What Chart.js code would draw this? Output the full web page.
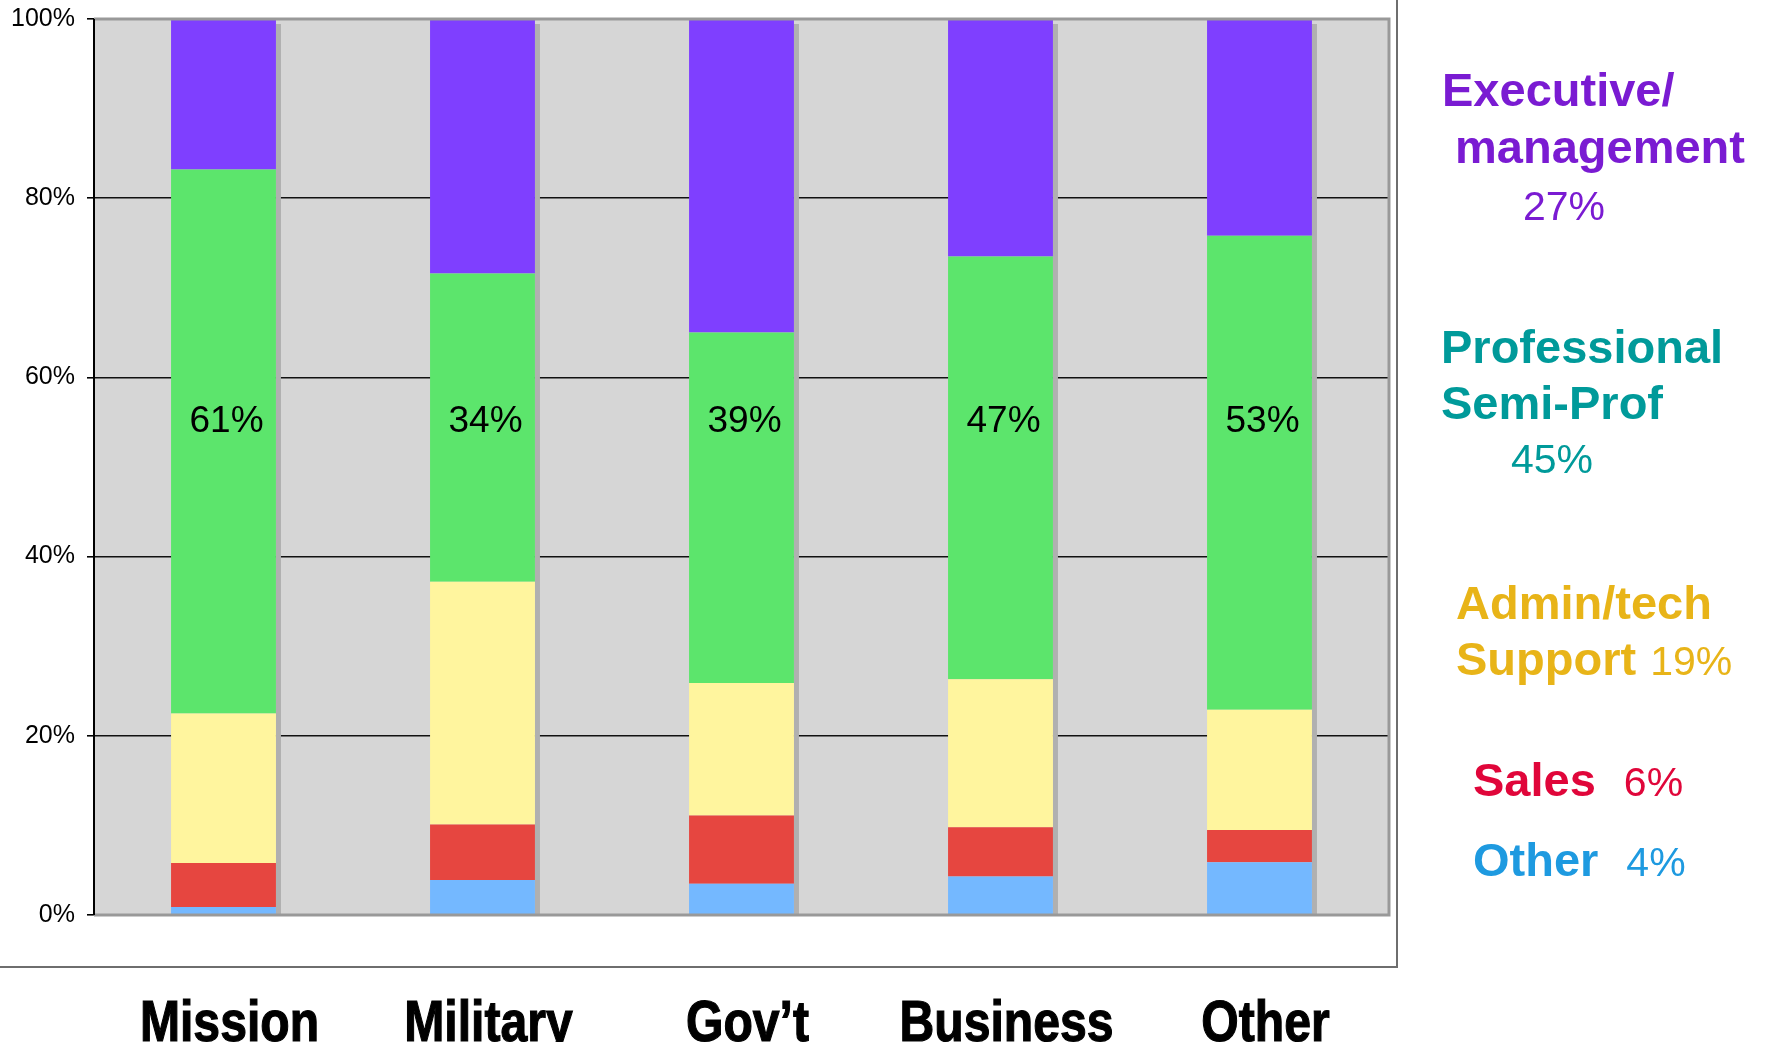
<!DOCTYPE html>
<html>
<head>
<meta charset="utf-8">
<title>Occupation by sector</title>
<script src="https://cdn.jsdelivr.net/npm/chart.js@4.4.1/dist/chart.umd.min.js"></script>
<style>
  html, body { margin: 0; padding: 0; background: #fff; }
  #wrap { width: 1771px; height: 1042px; position: relative; }
</style>
</head>
<body>
<div id="wrap"><canvas id="myChart" width="1771" height="1042"></canvas></div>
<script>
"use strict";

// sectors along the x axis
const sectors = ['Mission', 'Military', 'Gov\u2019t', 'Business', 'Other'];

// share of each occupation group per sector (percent)
const otherJobs = [0.9, 3.9, 3.5, 4.3, 5.9];
const sales = [4.9, 6.2, 7.6, 5.5, 3.6];
const adminTech = [16.7, 27.1, 14.8, 16.5, 13.4];
const professional = [60.7, 34.4, 39.1, 47.2, 52.9];
const executive = [16.8, 28.4, 35.0, 26.5, 24.2];

// y axis ticks
const yTicks = [0, 20, 40, 60, 80, 100];

// overall shares shown at the right
const legendItems = [
  { lines: ['Executive/', ' management'], pct: '27%', color: '#7a1bd2' },
  { lines: ['Professional', 'Semi-Prof'], pct: '45%', color: '#009a9a' },
  { lines: ['Admin/tech', 'Support'], pct: '19%', color: '#e8b418' },
  { lines: ['Sales'], pct: '6%', color: '#e0063a' },
  { lines: ['Other'], pct: '4%', color: '#1e9ae0' }
];

const FONT = '"Liberation Sans", Arial, sans-serif';

// grey plot background
const plotBg = {
  id: 'plotBg',
  beforeDraw(chart) {
    const { ctx, chartArea: a } = chart;
    ctx.save();
    ctx.fillStyle = '#d6d6d6';
    ctx.fillRect(a.left, a.top, a.right - a.left, a.bottom - a.top);
    ctx.restore();
  }
};

// little 3d shadow on the right of every column
const barShadow = {
  id: 'barShadow',
  beforeDatasetsDraw(chart) {
    const { ctx, chartArea: a } = chart;
    const top = chart.getDatasetMeta(chart.data.datasets.length - 1).data;
    ctx.save();
    ctx.fillStyle = '#b0b0b0';
    top.forEach(bar => {
      const right = bar.x + bar.width / 2;
      ctx.fillRect(right, bar.y + 5, 5, a.bottom - bar.y - 5);
    });
    ctx.restore();
  }
};

// percent of the professional group written on each column
const proLabels = {
  id: 'proLabels',
  afterDatasetsDraw(chart) {
    const { ctx } = chart;
    const meta = chart.getDatasetMeta(3);
    const y = chart.scales.y.getPixelForValue(55.1);
    ctx.save();
    ctx.fillStyle = '#000';
    ctx.font = '37px ' + FONT;
    ctx.textAlign = 'center';
    ctx.textBaseline = 'middle';
    meta.data.forEach((bar, i) => {
      ctx.fillText(Math.round(professional[i]) + '%', bar.x + 3, y);
    });
    ctx.restore();
  }
};

// sector names in a narrow bold face, under the frame
const sectorLabels = {
  id: 'sectorLabels',
  afterDraw(chart) {
    const { ctx, chartArea: a } = chart;
    const xs = chart.scales.x;
    ctx.save();
    ctx.fillStyle = '#000';
    ctx.strokeStyle = '#000';
    ctx.lineWidth = 1.2;
    ctx.font = 'bold 58px ' + FONT;
    ctx.textAlign = 'center';
    ctx.textBaseline = 'alphabetic';
    sectors.forEach((s, i) => {
      ctx.save();
      ctx.translate(xs.getPixelForValue(i) + 6, a.bottom + 126);
      ctx.scale(0.83, 1);
      ctx.fillText(s, 0, 0);
      ctx.strokeText(s, 0, 0);
      ctx.restore();
    });
    ctx.restore();
  }
};

// plot frame, outer frame and the text legend on the right
const frameAndLegend = {
  id: 'frameAndLegend',
  afterDraw(chart) {
    const { ctx, chartArea: a } = chart;
    ctx.save();
    // grey border of the plot (top, right, bottom)
    ctx.strokeStyle = '#999';
    ctx.lineWidth = 3;
    ctx.beginPath();
    ctx.moveTo(a.left, a.top);
    ctx.lineTo(a.right, a.top);
    ctx.lineTo(a.right, a.bottom);
    ctx.lineTo(a.left, a.bottom);
    ctx.stroke();
    // left axis line again on top
    ctx.strokeStyle = '#000';
    ctx.lineWidth = 2;
    ctx.beginPath();
    ctx.moveTo(a.left, a.top);
    ctx.lineTo(a.left, a.bottom);
    ctx.stroke();
    // outer chart frame
    ctx.strokeStyle = '#6e6e6e';
    ctx.lineWidth = 2;
    ctx.beginPath();
    ctx.moveTo(a.right + 8, 0);
    ctx.lineTo(a.right + 8, a.bottom + 52);
    ctx.lineTo(0, a.bottom + 52);
    ctx.stroke();

    // legend text
    const rows = [
      { x: 1442, y: 106, lh: 57, px: 1523, py: 220 },
      { x: 1441, y: 363, lh: 56, px: 1511, py: 473 },
      { x: 1456, y: 619, lh: 56, px: null },
      { x: 1473, y: 796, lh: 0, px: null },
      { x: 1473, y: 876, lh: 0, px: null }
    ];
    ctx.textBaseline = 'alphabetic';
    ctx.textAlign = 'left';
    legendItems.forEach((item, i) => {
      const r = rows[i];
      ctx.fillStyle = item.color;
      let lastX = r.x, lastY = r.y;
      item.lines.forEach((t, k) => {
        const yy = r.y + k * r.lh;
        ctx.font = 'bold 47px ' + FONT;
        ctx.fillText(t, r.x, yy);
        lastX = r.x + ctx.measureText(t).width;
        lastY = yy;
      });
      ctx.font = '41px ' + FONT;
      if (r.px !== null) {
        ctx.fillText(item.pct, r.px, r.py);
      } else {
        const gap = item.lines.length > 1 ? 14 : 28;
        ctx.fillText(item.pct, lastX + gap, lastY);
      }
    });
    ctx.restore();
  }
};

const ctx = document.getElementById('myChart').getContext('2d');
const chart = new Chart(ctx, {
  type: 'bar',
  data: {
    labels: sectors,
    datasets: [
      { label: 'Other', data: otherJobs, backgroundColor: '#74b8ff' },
      { label: 'Sales', data: sales, backgroundColor: '#e64640' },
      { label: 'Admin/tech Support', data: adminTech, backgroundColor: '#fff59e' },
      { label: 'Professional Semi-Prof', data: professional, backgroundColor: '#5ce56c' },
      { label: 'Executive/management', data: executive, backgroundColor: '#7f3fff' }
    ]
  },
  options: {
    responsive: false,
    animation: false,
    devicePixelRatio: 1,
    layout: { padding: { left: 0, top: 19, right: 382, bottom: 0 } },
    datasets: {
      bar: { categoryPercentage: 1, barPercentage: 0.405, borderWidth: 0 }
    },
    plugins: {
      legend: { display: false },
      tooltip: { enabled: false }
    },
    scales: {
      x: {
        stacked: true,
        grid: { display: false },
        border: { display: false },
        ticks: { display: false },
        afterFit(scale) { scale.height = 127; }
      },
      y: {
        stacked: true,
        min: 0,
        max: 100,
        afterBuildTicks(scale) { scale.ticks = yTicks.map(v => ({ value: v })); },
        grid: {
          color: c => (c.tick && (c.tick.value === 0 || c.tick.value === 100)) ? '#999' : '#111',
          lineWidth: 1.6,
          tickLength: 7,
          tickColor: '#000'
        },
        border: { display: true, color: '#000', width: 2 },
        ticks: {
          color: '#000',
          padding: 12,
          font: { family: FONT, size: 25 },
          callback: v => v + '%'
        },
        afterFit(scale) {
          scale.width = 94;
          scale.paddingTop = 0;
          scale.paddingBottom = 0;
        }
      }
    }
  },
  plugins: [plotBg, barShadow, proLabels, sectorLabels, frameAndLegend]
});
</script>
</body>
</html>
